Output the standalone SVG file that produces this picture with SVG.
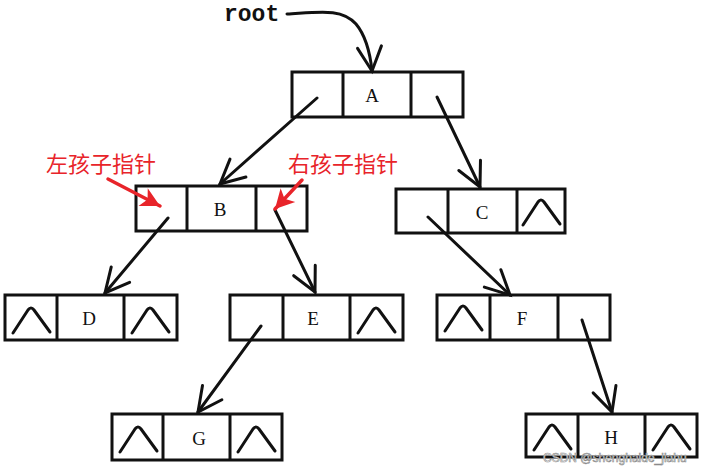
<svg xmlns="http://www.w3.org/2000/svg" width="709" height="471" viewBox="0 0 709 471">
  <style>
    .box { fill: #ffffff; stroke: #111111; stroke-width: 3; }
    .div { stroke: #111111; stroke-width: 3; }
    .lbl { font-family: "Liberation Serif", "DejaVu Serif", serif; font-size: 19px; fill: #111111; text-anchor: middle; }
    .nul { fill: none; stroke: #111111; stroke-width: 3; stroke-linecap: round; stroke-linejoin: round; }
    .edge { fill: none; stroke: #111111; stroke-width: 3; stroke-linecap: round; }
    .note { font-family: "Noto Sans CJK SC", "Noto Sans", sans-serif; font-size: 22px; fill: #e8242a; }
    .ptr { fill: none; stroke: #e8242a; stroke-width: 3.5; stroke-linecap: round; }
    .root { font-family: "Liberation Mono", "DejaVu Sans Mono", monospace; font-size: 23px; font-weight: bold; fill: #111111; }
    .mark { font-family: "Liberation Sans", Arial, sans-serif; font-size: 12px; fill: #ffffff; stroke: #8a8a8a; stroke-width: 0.6; }
  </style>
  <defs>
    <marker id="open" markerUnits="userSpaceOnUse" markerWidth="40" markerHeight="40" refX="30" refY="20" orient="auto">
      <path d="M6,8 L30,20 L6,32" fill="none" stroke="#111111" stroke-width="3" stroke-linecap="round" stroke-linejoin="miter"/>
    </marker>
    <marker id="redhead" markerUnits="userSpaceOnUse" markerWidth="30" markerHeight="30" refX="20" refY="15" orient="auto">
      <path d="M1,5 L20,15 L1,25 L6,15 Z" fill="#e8242a"/>
    </marker>
    <!-- empty link mark drawn in a cell 52 wide, 45 high -->
    <path id="null" class="nul" d="M8,38 L23,15 Q26,11 29,15 L45,37"/>
  </defs>

  <rect width="709" height="471" fill="#ffffff"/>

  <!-- root pointer -->
  <g id="root">
    <text class="root" x="224" y="21">root</text>
  </g>

  <g id="A">
    <rect class="box" x="292" y="72" width="171" height="45"/>
    <line class="div" x1="343" y1="72" x2="343" y2="117"/>
    <line class="div" x1="411" y1="72" x2="411" y2="117"/>
    <text class="lbl" x="372" y="102">A</text>
  </g>

  <g id="B">
    <rect class="box" x="136" y="186" width="171" height="45"/>
    <line class="div" x1="187" y1="186" x2="187" y2="231"/>
    <line class="div" x1="256" y1="186" x2="256" y2="231"/>
    <text class="lbl" x="220" y="216">B</text>
  </g>

  <g id="C">
    <rect class="box" x="396" y="189" width="169" height="44"/>
    <line class="div" x1="448" y1="189" x2="448" y2="233"/>
    <line class="div" x1="517" y1="189" x2="517" y2="233"/>
    <text class="lbl" x="482" y="219">C</text>
    <use href="#null" x="515" y="187"/>
  </g>

  <g id="D">
    <rect class="box" x="5" y="295" width="172" height="45"/>
    <line class="div" x1="57" y1="295" x2="57" y2="340"/>
    <line class="div" x1="124" y1="295" x2="124" y2="340"/>
    <text class="lbl" x="89" y="325">D</text>
    <use href="#null" x="5" y="295"/>
    <use href="#null" x="124" y="295"/>
  </g>

  <g id="E">
    <rect class="box" x="230" y="295" width="173" height="45"/>
    <line class="div" x1="283" y1="295" x2="283" y2="340"/>
    <line class="div" x1="350" y1="295" x2="350" y2="340"/>
    <text class="lbl" x="313" y="325">E</text>
    <use href="#null" x="350" y="295"/>
  </g>

  <g id="F">
    <rect class="box" x="437" y="295" width="173" height="45"/>
    <line class="div" x1="490" y1="295" x2="490" y2="340"/>
    <line class="div" x1="558" y1="295" x2="558" y2="340"/>
    <text class="lbl" x="522" y="325">F</text>
    <use href="#null" x="437" y="293"/>
  </g>

  <g id="G">
    <rect class="box" x="112" y="414" width="170" height="46"/>
    <line class="div" x1="163" y1="414" x2="163" y2="460"/>
    <line class="div" x1="230" y1="414" x2="230" y2="460"/>
    <text class="lbl" x="199" y="445">G</text>
    <use href="#null" x="112" y="414"/>
    <use href="#null" x="230" y="414"/>
  </g>

  <g id="H">
    <rect class="box" x="526" y="414" width="171" height="43"/>
    <line class="div" x1="578" y1="414" x2="578" y2="457"/>
    <line class="div" x1="645" y1="414" x2="645" y2="457"/>
    <text class="lbl" x="611" y="444">H</text>
    <use href="#null" x="526" y="412"/>
    <use href="#null" x="645" y="412"/>
  </g>

  <!-- connectors, drawn over the boxes so they start inside the pointer cells -->
  <g id="connectors">
    <path class="edge" d="M287,14 C320,12 342,8 356,24 C366,36 370,52 372,71" marker-end="url(#open)"/>
    <line class="edge" x1="317" y1="98" x2="220" y2="184" marker-end="url(#open)"/>
    <line class="edge" x1="437" y1="97" x2="480" y2="187" marker-end="url(#open)"/>
    <line class="edge" x1="168" y1="218" x2="105" y2="293" marker-end="url(#open)"/>
    <line class="edge" x1="275" y1="210" x2="315" y2="292" marker-end="url(#open)"/>
    <line class="edge" x1="428" y1="217" x2="510" y2="295" marker-end="url(#open)"/>
    <line class="edge" x1="261" y1="326" x2="198" y2="412" marker-end="url(#open)"/>
    <line class="edge" x1="582" y1="320" x2="612" y2="412" marker-end="url(#open)"/>
  </g>

  <!-- child pointer notes -->
  <g id="left-note">
    <text class="note" x="46" y="172">左孩子指针</text>
    <line class="ptr" x1="108" y1="179" x2="160" y2="206" marker-end="url(#redhead)"/>
  </g>
  <g id="right-note">
    <text class="note" x="288" y="172">右孩子指针</text>
    <line class="ptr" x1="302" y1="180" x2="275" y2="209" marker-end="url(#redhead)"/>
  </g>

  <text class="mark" x="543" y="462">CSDN @shenghaide_jiahu</text>
</svg>
